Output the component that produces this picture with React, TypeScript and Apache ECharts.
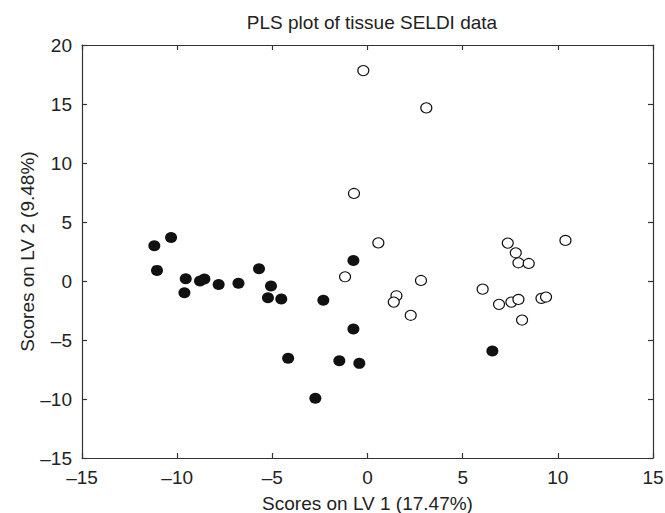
import React, { useEffect, useRef } from "react";
import * as echarts from "echarts";

const title = "PLS plot of tissue SELDI data";
const xName = "Scores on LV 1 (17.47%)";
const yName = "Scores on LV 2 (9.48%)";

const filledPoints: [number, number][] = [
  [-11.2, 2.98], [-10.32, 3.69], [-11.06, 0.9], [-9.55, 0.19], [-9.62, -1.0],
  [-8.8, 0.0], [-8.57, 0.16], [-7.82, -0.29], [-6.78, -0.2], [-5.7, 1.03],
  [-5.07, -0.43], [-5.23, -1.42], [-4.53, -1.53], [-4.17, -6.55], [-2.74, -9.94],
  [-2.32, -1.64], [-0.74, 1.74], [-0.74, -4.07], [-1.48, -6.76], [-0.43, -6.98],
  [6.56, -5.94],
];

const openPoints: [number, number][] = [
  [-0.22, 17.83], [3.09, 14.67], [-0.71, 7.42], [0.57, 3.23], [-1.18, 0.36],
  [2.81, 0.05], [1.52, -1.25], [1.38, -1.79], [2.27, -2.91], [6.05, -0.69],
  [6.91, -1.98], [7.56, -1.79], [7.93, -1.56], [8.12, -3.31], [7.37, 3.21],
  [7.79, 2.39], [7.93, 1.54], [8.47, 1.49], [9.14, -1.47], [9.38, -1.36],
  [10.4, 3.44],
];

const xMin = -15, xMax = 15, xStep = 5;
const yMin = -15, yMax = 20, yStep = 5;

const FONT = "'Liberation Sans', Arial, Helvetica, sans-serif";
const fmt = (v: number) => (v < 0 ? "\u2013" + Math.abs(v) : String(v));

export default function App() {
  const ref = useRef<HTMLDivElement>(null);
  useEffect(() => {
    document.body.style.margin = "0";
    const chart = echarts.init(ref.current!, null, { renderer: "svg" });
    const axisLine = { show: true, onZero: false, lineStyle: { color: "#333", width: 1.2 } };
    const axisTick = { show: true, inside: true, length: 5, lineStyle: { color: "#333", width: 1.2 } };
    const label = { color: "#222", fontSize: 19, fontFamily: FONT, formatter: fmt };
    chart.setOption({
      animation: false,
      backgroundColor: "#fff",
      title: {
        text: title,
        left: 367,
        top: 8,
        textAlign: "center",
        textStyle: { fontSize: 19, fontWeight: "normal", color: "#222", fontFamily: FONT },
      },
      grid: { left: 82, right: 12, top: 45, bottom: 55, outerBoundsMode: "none", containLabel: false },
      xAxis: [
        {
          type: "value", min: xMin, max: xMax, interval: xStep, position: "bottom",
          axisLine, axisTick, splitLine: { show: false },
          axisLabel: { ...label, margin: 10 },
          name: xName, nameLocation: "middle", nameGap: 36, nameMoveOverlap: false,
          nameTextStyle: { fontSize: 19, color: "#222", fontFamily: FONT },
        },
        {
          type: "value", min: xMin, max: xMax, interval: xStep, position: "top",
          axisLine, axisTick, splitLine: { show: false }, axisLabel: { show: false },
        },
      ],
      yAxis: [
        {
          type: "value", min: yMin, max: yMax, interval: yStep, position: "left",
          axisLine, axisTick, splitLine: { show: false },
          axisLabel: { ...label, margin: 10 },
          name: yName, nameLocation: "middle", nameGap: 45, nameRotate: 90, nameMoveOverlap: false,
          nameTextStyle: { fontSize: 19, color: "#222", fontFamily: FONT },
        },
        {
          type: "value", min: yMin, max: yMax, interval: yStep, position: "right",
          axisLine, axisTick, splitLine: { show: false }, axisLabel: { show: false },
        },
      ],
      series: [
        {
          type: "scatter", xAxisIndex: 0, yAxisIndex: 0,
          data: openPoints, symbol: "circle", symbolSize: [11, 10],
          itemStyle: { color: "#fff", borderColor: "#111", borderWidth: 1.1, opacity: 1 },
          z: 2,
        },
        {
          type: "scatter", xAxisIndex: 0, yAxisIndex: 0,
          data: filledPoints, symbol: "circle", symbolSize: [12, 11],
          itemStyle: { color: "#111", opacity: 1 },
          z: 3,
        },
      ],
    });
    return () => chart.dispose();
  }, []);
  return <div ref={ref} style={{ width: 665, height: 513 }} />;
}
